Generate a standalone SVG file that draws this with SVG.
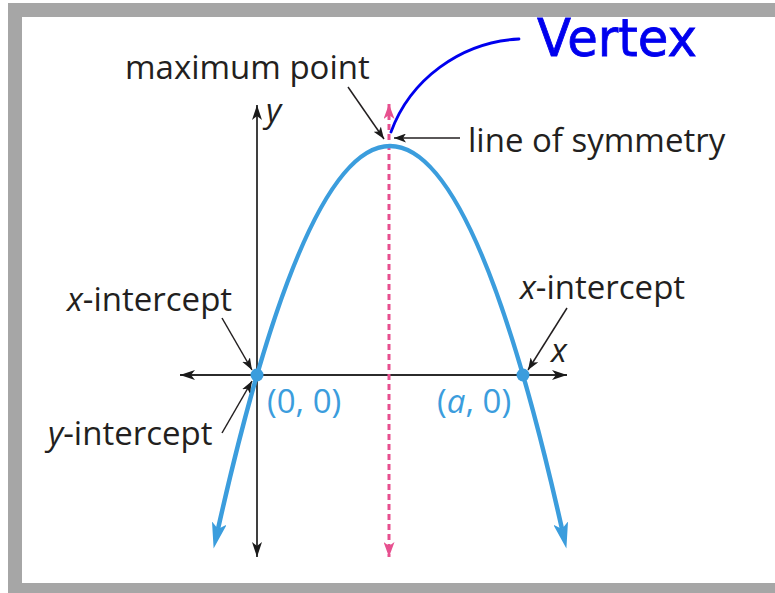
<svg xmlns="http://www.w3.org/2000/svg" width="775" height="593" viewBox="0 0 775 593">
<style>
.lbl{font-family:"Open Sans","DejaVu Sans",sans-serif;font-size:33px;fill:#231f20}
.blu{font-family:"Open Sans","DejaVu Sans",sans-serif;font-size:33px;fill:#3b9ddd}
.it{font-style:italic}
.axis{stroke:#2b2b2b;stroke-width:1.8;fill:none}
.ptr{stroke:#231f20;stroke-width:1.5;fill:none}
.curve{stroke:#3b9ddd;stroke-width:4.5;fill:none}
.sym{stroke:#e7508f;stroke-width:3;stroke-dasharray:6 4;fill:none}
.hand{font-family:"DejaVu Sans",sans-serif;font-size:52px;fill:#0000ee;stroke:#0000ee;stroke-width:0.8}
</style>
<defs>
<marker id="ahAxis" markerUnits="userSpaceOnUse" markerWidth="16" markerHeight="10" refX="15" refY="5" orient="auto-start-reverse">
<path d="M0,0 L15,5 L0,10 L4,5 z" fill="#1a1a1a"/>
</marker>
<marker id="ahPtr" markerUnits="userSpaceOnUse" markerWidth="13" markerHeight="9" refX="12" refY="4.5" orient="auto">
<path d="M0,0 L12,4.5 L0,9 L3,4.5 z" fill="#1a1a1a"/>
</marker>
<marker id="ahPink" markerUnits="userSpaceOnUse" markerWidth="16" markerHeight="11" refX="15" refY="5.5" orient="auto-start-reverse">
<path d="M0,0 L15,5.5 L0,11 L4,5.5 z" fill="#e7508f"/>
</marker>
<marker id="ahBlue" markerUnits="userSpaceOnUse" markerWidth="27" markerHeight="15" refX="6" refY="7.5" orient="auto">
<path d="M0,0 L26,7.5 L0,15 L6,7.5 z" fill="#3b9ddd"/>
</marker>
</defs>
<g id="frame">
<rect x="8" y="3" width="800" height="600" fill="#a6a6a6"/>
<rect x="22" y="17" width="780" height="566" fill="#ffffff"/>
</g>
<g id="connectors">
<line id="y-axis" class="axis" x1="257" y1="105" x2="257" y2="557" marker-start="url(#ahAxis)" marker-end="url(#ahAxis)"/>
<line id="x-axis" class="axis" x1="180" y1="375" x2="567" y2="375" marker-start="url(#ahAxis)" marker-end="url(#ahAxis)"/>
<line id="symmetry-line" class="sym" x1="389" y1="104" x2="389" y2="557" marker-start="url(#ahPink)" marker-end="url(#ahPink)"/>
<path class="curve" d="M390,146 Q304,146 218,529" marker-end="url(#ahBlue)"/>
<path class="curve" d="M390,146 Q476,146 562,529" marker-end="url(#ahBlue)"/>
<line class="ptr" x1="348" y1="87" x2="384" y2="139" marker-end="url(#ahPtr)"/>
<line class="ptr" x1="460" y1="138" x2="394" y2="138" marker-end="url(#ahPtr)"/>
<line class="ptr" x1="222" y1="318" x2="252" y2="370" marker-end="url(#ahPtr)"/>
<line class="ptr" x1="222" y1="433" x2="252" y2="381" marker-end="url(#ahPtr)"/>
<line class="ptr" x1="567" y1="308" x2="528" y2="370" marker-end="url(#ahPtr)"/>
<path d="M519,39 C460,42 410,80 391,132" fill="none" stroke="#0000ee" stroke-width="2.8" stroke-linecap="round"/>
</g>
<g id="origin-point">
<circle cx="257" cy="375" r="6.5" fill="#3b9ddd"/>
<text class="blu" x="267" y="413">(0, 0)</text>
</g>
<g id="a-point">
<circle cx="523" cy="375" r="6.5" fill="#3b9ddd"/>
<text class="blu" x="437" y="413">(<tspan class="it">a</tspan>, 0)</text>
</g>
<g id="label-maximum">
<text class="lbl" x="125" y="79">maximum point</text>
</g>
<g id="label-symmetry">
<text class="lbl" x="468" y="152">line of symmetry</text>
</g>
<g id="label-x-intercept-left">
<text class="lbl" x="67" y="311"><tspan class="it">x</tspan>-intercept</text>
</g>
<g id="label-y-intercept">
<text class="lbl" x="48" y="445"><tspan class="it">y</tspan>-intercept</text>
</g>
<g id="label-x-intercept-right">
<text class="lbl" x="520" y="299"><tspan class="it">x</tspan>-intercept</text>
</g>
<g id="axis-labels">
<text class="lbl it" x="266" y="122">y</text>
<text class="lbl it" x="551" y="362">x</text>
</g>
<g id="vertex-note">
<text class="hand" x="537" y="56" textLength="160" lengthAdjust="spacingAndGlyphs">Vertex</text>
</g>
</svg>
